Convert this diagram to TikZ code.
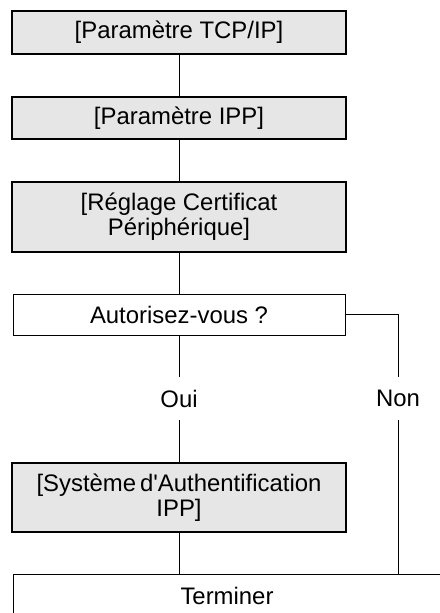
\documentclass[tikz,border=0pt]{standalone}
\usepackage{fontspec}
\setmainfont{Liberation Sans}
\usepackage{xcolor}
\usepackage{tikz}
\usetikzlibrary{positioning,calc}
\definecolor{boxgray}{HTML}{E6E6E6}

\begin{document}
\begin{tikzpicture}[
  font=\fontsize{17}{17.7}\selectfont,
  menu/.style={draw=black, line width=1.8pt, fill=boxgray,
               minimum width=8.35cm, align=center, inner sep=0pt},
  plain/.style={draw=black, line width=0.7pt, fill=white,
                align=center, inner sep=0pt},
  answer/.style={inner sep=0pt, minimum height=1.075cm},
  link/.style={line width=0.7pt, black},
]
\clip (0,0) rectangle (11,-15.325);

\node[menu]  (tcp)  at (4.475,-0.8125)  [minimum height=1.075cm] {[Paramètre TCP/IP]};
\node[menu]  (ipp)  at (4.475,-2.95)    [minimum height=1.05cm]  {[Paramètre IPP]};
\node[menu]  (cert) at (4.475,-5.425)   [minimum height=1.75cm]
  {[Réglage Certificat\\Périphérique]};
\node[plain] (auth) at (4.475,-7.8625)  [minimum width=8.3cm, minimum height=1.025cm]
  {Autorisez-vous ?};
\node[answer] (oui) at (4.475,-9.9625) {Oui};
\node[answer] (non) at (9.95,-9.9625)   {Non};
\node[menu]  (sys)  at (4.475,-12.4375) [minimum height=1.725cm]
  {[Système\,d\textquotesingle Authentification\\IPP]};
\node[plain] (term) at (5.675,-14.9)    [minimum width=10.7cm, minimum height=1.1cm]
  {Terminer};

\draw[link] (tcp) -- (ipp);
\draw[link] (ipp) -- (cert);
\draw[link] (cert) -- (auth);
\draw[link] (auth) -- (oui);
\draw[link] (oui) -- (sys);
\draw[link] (sys) -- (term.north -| sys);

% ── the "Non" branch skips straight down to the end ──────────────────────
\draw[link] (auth.east) -| (non.north);
\draw[link] (non.south) -- (non |- term.north);
\end{tikzpicture}
\end{document}
